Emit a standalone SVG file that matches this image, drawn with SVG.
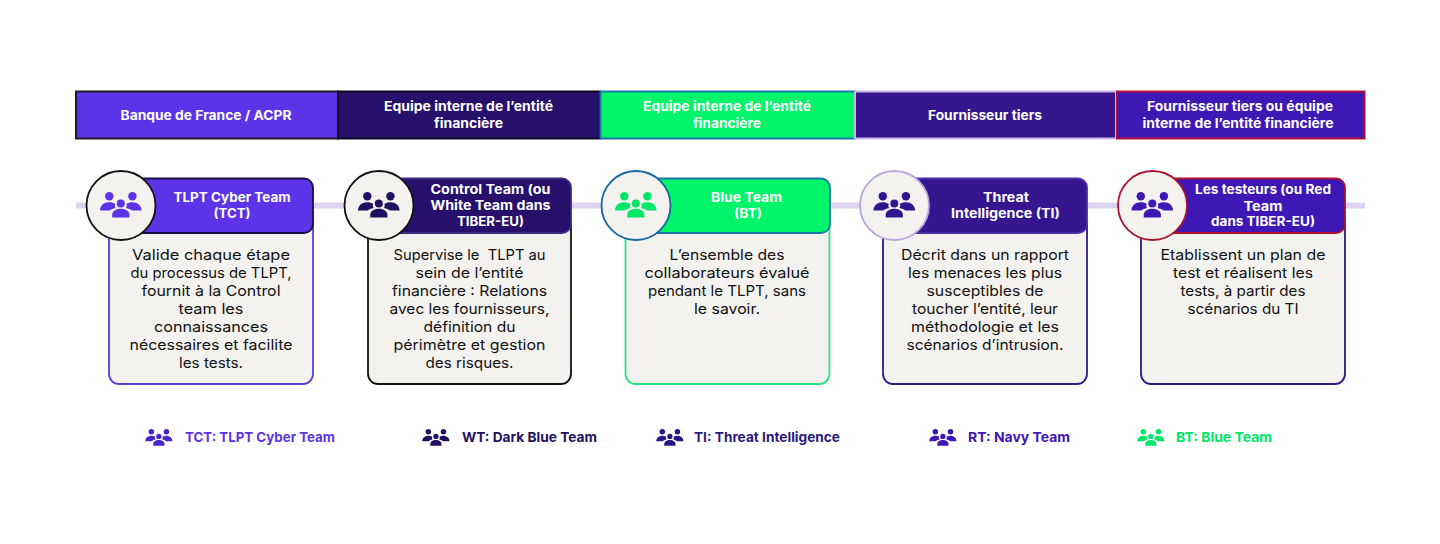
<svg xmlns="http://www.w3.org/2000/svg" width="1440" height="544" viewBox="0 0 1440 544">
<style>
text{font-family:"Inter","Noto Sans","Liberation Sans",sans-serif;text-anchor:middle}
.w{fill:#fff;font-weight:700;font-size:13px}
.b{fill:#111;font-weight:400;font-size:14.6px}
.l{font-weight:700;font-size:13.6px;text-anchor:start}
.band{stroke-width:2}
.body{fill:#f3f2ef;stroke-width:1.8}
.head{stroke-width:1.8}
.circ{fill:#f3f2ef;stroke-width:1.8}
</style>
<defs>
<symbol id="team" viewBox="0 0 42 26" overflow="visible">
<circle cx="9.3" cy="4.3" r="4.2" fill="currentColor"/>
<circle cx="32.4" cy="4.3" r="4.2" fill="currentColor"/>
<circle cx="20.8" cy="11.4" r="4" fill="currentColor"/>
<path fill="currentColor" d="M0 18.6C0 13.6 4 10.2 9.2 10.2C11.6 10.2 13.6 10.8 15.2 11.8C14.6 13.6 14.9 15 15.7 16C13 16.6 11 17.3 9.5 18.6Z"/>
<path fill="currentColor" d="M41.6 18.6C41.6 13.6 37.6 10.2 32.4 10.2C30 10.2 28 10.8 26.4 11.8C27 13.6 26.7 15 25.9 16C28.6 16.6 30.6 17.3 32.1 18.6Z"/>
<path fill="currentColor" d="M12.2 25.6V23C12.2 19.2 16 16.8 20.8 16.8C25.6 16.8 29.4 19.2 29.4 23V25.6Z"/>
</symbol>
</defs>
<rect width="1440" height="544" fill="#fff"/>

<g id="connectors">
<line x1="76" y1="205.5" x2="1365" y2="205.5" stroke="#ddd3ef" stroke-width="6"/>
</g>

<g id="band-1">
<rect class="band" x="76" y="91.5" width="262" height="47" fill="#5c33e6" stroke="#1c1c2c"/>
<text class="w" x="206" y="120" textLength="171" lengthAdjust="spacingAndGlyphs">Banque de France / ACPR</text>
</g>
<g id="band-2">
<rect class="band" x="338" y="91.5" width="262" height="47" fill="#26106b" stroke="#0e0a24"/>
<text class="w" x="468.5" y="111" textLength="169" lengthAdjust="spacingAndGlyphs">Equipe interne de l’entité</text>
<text class="w" x="468.5" y="127.500" textLength="69" lengthAdjust="spacingAndGlyphs">financière</text>
</g>
<g id="band-3">
<rect class="band" x="600.500" y="91.5" width="254.500" height="47" fill="#00f56a" stroke="#1a77a8"/>
<text class="w" x="727" y="111" textLength="168" lengthAdjust="spacingAndGlyphs">Equipe interne de l’entité</text>
<text class="w" x="727" y="127.500" textLength="68" lengthAdjust="spacingAndGlyphs">financière</text>
</g>
<g id="band-4">
<rect class="band" x="855" y="91.5" width="261" height="47" fill="#35168f" stroke="#c9b8e6"/>
<text class="w" x="985" y="120" textLength="114" lengthAdjust="spacingAndGlyphs">Fournisseur tiers</text>
</g>
<g id="band-5">
<rect class="band" x="1117" y="91.5" width="247.500" height="47" fill="#3f17b5" stroke="#b01030"/>
<text class="w" x="1240" y="111" textLength="186" lengthAdjust="spacingAndGlyphs">Fournisseur tiers ou équipe</text>
<text class="w" x="1238" y="127.500" textLength="191" lengthAdjust="spacingAndGlyphs">interne de l’entité financière</text>
</g>

<g id="card-tct">
<rect class="body" x="109" y="215" width="204" height="169" rx="10" stroke="#5c3fd0"/>
<rect class="head" x="110" y="178.500" width="203" height="54.500" rx="9" fill="#5c33e6" stroke="#1a1040"/>
<circle class="circ" cx="121" cy="205.500" r="34.500" stroke="#111"/>
<use href="#team" x="100" y="192" width="42" height="26" color="#5c33e6"/>
<text class="w" x="232" y="201.500" textLength="117" lengthAdjust="spacingAndGlyphs">TLPT Cyber Team</text>
<text class="w" x="232" y="217.500" textLength="37" lengthAdjust="spacingAndGlyphs">(TCT)</text>
<text class="b" x="211" y="260" textLength="158" lengthAdjust="spacingAndGlyphs">Valide chaque étape</text>
<text class="b" x="211" y="278" textLength="161" lengthAdjust="spacingAndGlyphs">du processus de TLPT,</text>
<text class="b" x="211" y="296" textLength="139" lengthAdjust="spacingAndGlyphs">fournit à la Control</text>
<text class="b" x="211" y="314" textLength="65" lengthAdjust="spacingAndGlyphs">team les</text>
<text class="b" x="211" y="332" textLength="114" lengthAdjust="spacingAndGlyphs">connaissances</text>
<text class="b" x="211" y="350" textLength="163" lengthAdjust="spacingAndGlyphs">nécessaires et facilite</text>
<text class="b" x="211" y="368" textLength="64" lengthAdjust="spacingAndGlyphs">les tests.</text>
</g>

<g id="card-control">
<rect class="body" x="368" y="215" width="203" height="169" rx="10" stroke="#111"/>
<rect class="head" x="370" y="178.500" width="201" height="54.500" rx="9" fill="#26106b" stroke="#3a2a80"/>
<circle class="circ" cx="379" cy="205.500" r="34.500" stroke="#111"/>
<use href="#team" x="358" y="192" width="42" height="26" color="#1f1160"/>
<text class="w" x="490.500" y="194" textLength="120" lengthAdjust="spacingAndGlyphs">Control Team (ou</text>
<text class="w" x="490.500" y="210" textLength="120" lengthAdjust="spacingAndGlyphs">White Team dans</text>
<text class="w" x="490.500" y="226" textLength="67" lengthAdjust="spacingAndGlyphs">TIBER-EU)</text>
<text class="b" x="469.500" y="260" textLength="152" lengthAdjust="spacingAndGlyphs" xml:space="preserve">Supervise le  TLPT au</text>
<text class="b" x="469.500" y="278" textLength="108" lengthAdjust="spacingAndGlyphs">sein de l’entité</text>
<text class="b" x="469.500" y="296" textLength="155" lengthAdjust="spacingAndGlyphs">financière : Relations</text>
<text class="b" x="469.500" y="314" textLength="160" lengthAdjust="spacingAndGlyphs">avec les fournisseurs,</text>
<text class="b" x="469.500" y="332" textLength="92" lengthAdjust="spacingAndGlyphs">définition du</text>
<text class="b" x="469.500" y="350" textLength="152" lengthAdjust="spacingAndGlyphs">périmètre et gestion</text>
<text class="b" x="469.500" y="368" textLength="88" lengthAdjust="spacingAndGlyphs">des risques.</text>
</g>

<g id="card-blue">
<rect class="body" x="625.500" y="215" width="204" height="169" rx="10" stroke="#2de080"/>
<rect class="head" x="627" y="178.500" width="203" height="54.500" rx="9" fill="#00f56a" stroke="#1a77a8"/>
<circle class="circ" cx="636" cy="205.500" r="34.500" stroke="#15669e"/>
<use href="#team" x="615" y="192" width="42" height="26" color="#00e668"/>
<text class="w" x="746.500" y="202" textLength="71" lengthAdjust="spacingAndGlyphs">Blue Team</text>
<text class="w" x="748" y="218" textLength="28" lengthAdjust="spacingAndGlyphs">(BT)</text>
<text class="b" x="727" y="260" textLength="115" lengthAdjust="spacingAndGlyphs">L’ensemble des</text>
<text class="b" x="727" y="278" textLength="165" lengthAdjust="spacingAndGlyphs">collaborateurs évalué</text>
<text class="b" x="727" y="296" textLength="158" lengthAdjust="spacingAndGlyphs">pendant le TLPT, sans</text>
<text class="b" x="727" y="314" textLength="66" lengthAdjust="spacingAndGlyphs">le savoir.</text>
</g>

<g id="card-ti">
<rect class="body" x="883" y="215" width="204" height="169" rx="10" stroke="#2f1a8a"/>
<rect class="head" x="885" y="178.500" width="202" height="54.500" rx="9" fill="#35168f" stroke="#4a2fa8"/>
<circle class="circ" cx="894.500" cy="205.500" r="34.500" stroke="#b9a6dc"/>
<use href="#team" x="873.500" y="192" width="42" height="26" color="#2f1590"/>
<text class="w" x="1006" y="202" textLength="46" lengthAdjust="spacingAndGlyphs">Threat</text>
<text class="w" x="1005.500" y="218" textLength="109" lengthAdjust="spacingAndGlyphs">Intelligence (TI)</text>
<text class="b" x="985" y="260" textLength="168" lengthAdjust="spacingAndGlyphs">Décrit dans un rapport</text>
<text class="b" x="985" y="278" textLength="154" lengthAdjust="spacingAndGlyphs">les menaces les plus</text>
<text class="b" x="985" y="296" textLength="117" lengthAdjust="spacingAndGlyphs">susceptibles de</text>
<text class="b" x="985" y="314" textLength="146" lengthAdjust="spacingAndGlyphs">toucher l’entité, leur</text>
<text class="b" x="985" y="332" textLength="148" lengthAdjust="spacingAndGlyphs">méthodologie et les</text>
<text class="b" x="985" y="350" textLength="157" lengthAdjust="spacingAndGlyphs">scénarios d’intrusion.</text>
</g>

<g id="card-testers">
<rect class="body" x="1141" y="215" width="204" height="169" rx="10" stroke="#2a1a8a"/>
<rect class="head" x="1143" y="178.500" width="202" height="54.500" rx="9" fill="#3f17b5" stroke="#b01030"/>
<circle class="circ" cx="1152.500" cy="205.500" r="34.500" stroke="#a81530"/>
<use href="#team" x="1131.500" y="192" width="42" height="26" color="#3f17b5"/>
<text class="w" x="1263" y="194" textLength="136" lengthAdjust="spacingAndGlyphs">Les testeurs (ou Red</text>
<text class="w" x="1263" y="210.500" textLength="39" lengthAdjust="spacingAndGlyphs">Team</text>
<text class="w" x="1263" y="226" textLength="104" lengthAdjust="spacingAndGlyphs">dans TIBER-EU)</text>
<text class="b" x="1243" y="260" textLength="165" lengthAdjust="spacingAndGlyphs">Etablissent un plan de</text>
<text class="b" x="1243" y="278" textLength="140" lengthAdjust="spacingAndGlyphs">test et réalisent les</text>
<text class="b" x="1243" y="296" textLength="125" lengthAdjust="spacingAndGlyphs">tests, à partir des</text>
<text class="b" x="1243" y="314" textLength="111" lengthAdjust="spacingAndGlyphs">scénarios du TI</text>
</g>

<g id="legend-tct">
<use href="#team" x="145" y="429" width="28" height="17" color="#4a25c8"/>
<text class="l" x="185" y="442" textLength="150" lengthAdjust="spacingAndGlyphs" fill="#5c33e0">TCT: TLPT Cyber Team</text>
</g>
<g id="legend-wt">
<use href="#team" x="422" y="429" width="28" height="17" color="#1f1160"/>
<text class="l" x="462" y="442" textLength="135" lengthAdjust="spacingAndGlyphs" fill="#1f1160">WT: Dark Blue Team</text>
</g>
<g id="legend-ti">
<use href="#team" x="656" y="429" width="28" height="17" color="#2a1585"/>
<text class="l" x="694" y="442" textLength="146" lengthAdjust="spacingAndGlyphs" fill="#2a1a7d">TI: Threat Intelligence</text>
</g>
<g id="legend-rt">
<use href="#team" x="929" y="429" width="28" height="17" color="#3f17b5"/>
<text class="l" x="968" y="442" textLength="102" lengthAdjust="spacingAndGlyphs" fill="#3f17b5">RT: Navy Team</text>
</g>
<g id="legend-bt">
<use href="#team" x="1137" y="429" width="28" height="17" color="#00e668"/>
<text class="l" x="1176" y="442" textLength="96" lengthAdjust="spacingAndGlyphs" fill="#00e668">BT: Blue Team</text>
</g>
</svg>
